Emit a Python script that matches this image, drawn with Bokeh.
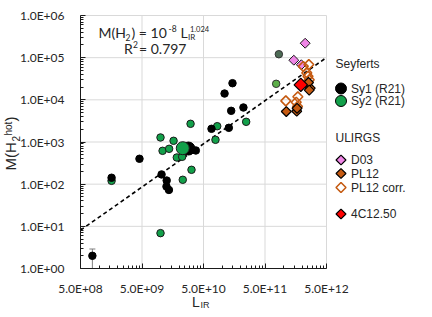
import numpy as np
from bokeh.plotting import figure
from bokeh.models import Range1d, FixedTicker, CustomJSTickFormatter
from bokeh.core.properties import value
from bokeh.embed import file_html
from bokeh.resources import INLINE

# ---------------- data ----------------
sy1_lir = [7.8e8, 1.6e9, 4.55e9, 1.04e10, 1.26e10, 1.25e10, 1.37e10, 3.75e10,
           6.75e10, 1.29e11, 1.41e11, 2.23e11, 1.10e11, 1.48e11]
sy1_mh2 = [2.0, 142, 400, 170, 122, 88, 73, 629, 2055, 2170, 5490, 6580, 14100, 24800]
err_lir = [7.8e8]
err_lo = [1.0]
err_hi = [2.9]

sy2_lir = [1.6e9, 1.0e10, 1.0e10, 1.08e10, 1.38e10, 1.63e10, 1.84e10, 2.25e10,
           2.3e10, 3.19e10, 3.08e10, 7.83e10, 8.36e10, 2.47e11]
sy2_mh2 = [120, 6.9, 1280, 618, 689, 1067, 429, 445, 127, 219, 2700, 1127, 2370, 3010]

sy1_mean_lir = [2.85e10]
sy1_mean_mh2 = [700]
sy2_mean_lir = [2.3e10]
sy2_mean_mh2 = [713]

extra_lir = [7.6e11]
extra_mh2 = [24000]
extra2_lir = [8.4e11]
extra2_mh2 = [120800]

d03_lir = [2.25e12, 1.47e12, 1.95e12]
d03_mh2 = [220000, 87000, 68000]

pl12_lir = [1.11e12, 1.64e12, 1.66e12, 2.72e12, 2.55e12, 2.62e12]
pl12_mh2 = [5280, 5370, 6300, 18900, 25800, 17000]

pl12c_lir = [2.1e12, 2.58e12, 2.39e12, 2.62e12, 1.09e12, 1.71e12, 1.61e12, 1.69e12, 2.5e12]
pl12c_mh2 = [62000, 68800, 43700, 29900, 9440, 11800, 8790, 6950, 36000]

c4_lir = [1.91e12]
c4_mh2 = [22700]

fit_coef = 1e-8
fit_exp = 1.024

x_major = [5e8, 5e9, 5e10, 5e11, 5e12]
y_major = [1, 10, 100, 1e3, 1e4, 1e5, 1e6]

legend_groups = ["Seyferts", "ULIRGS"]
legend_labels = ["Sy1 (R21)", "Sy2 (R21)", "D03", "PL12", "PL12 corr.", "4C12.50"]

GREEN = "#12a04a"
PINK = "#ef86e6"
BROWN = "#c55a11"
TXT = "#262626"
GRID = "#d9d9d9"
AXC = "#1a1a1a"

# ---------------- layout (picture pixels) ----------------
CANVAS_X0, CANVAS_Y0 = 8, 0
W, H = 416, 309
AREA_L, AREA_R, AREA_T, AREA_B = 88, 334, 15, 268     # the plotted data area
PPD_X = (AREA_R - AREA_L) / (np.log10(x_major[-1]) - np.log10(x_major[0]))
PPD_Y = (AREA_B - AREA_T) / (np.log10(y_major[-1]) - np.log10(y_major[0]))

def lx(px):
    return 10 ** (np.log10(x_major[0]) + (px - AREA_L) / PPD_X)

def ly(py):
    return 10 ** (np.log10(y_major[0]) + (AREA_B - py) / PPD_Y)

def mid(base, size):
    return base - 0.32 * size

p = figure(width=W, height=H, x_axis_type="log", y_axis_type="log",
           x_range=Range1d(lx(CANVAS_X0), lx(CANVAS_X0 + W)),
           y_range=Range1d(ly(CANVAS_Y0 + H), ly(CANVAS_Y0)),
           output_backend="svg", toolbar_location=None,
           min_border_left=0, min_border_right=0, min_border_top=0, min_border_bottom=0)
p.outline_line_color = None
p.grid.visible = False

x_minor = [m * x_major[0] * 10 ** k for k in range(4) for m in range(2, 10)]
y_minor = [m * 10 ** k for k in range(6) for m in range(2, 10)]

fmt = CustomJSTickFormatter(code=r"""
const s = tick.toExponential(1).toUpperCase();
return s.replace(/E([+-])(\d)$/, (m, a, b) => 'E' + a + '0' + b);
""")

for ax, maj, mnr in ((p.xaxis[0], x_major, x_minor), (p.yaxis[0], y_major, y_minor)):
    ax.ticker = FixedTicker(ticks=maj, minor_ticks=mnr)
    ax.formatter = fmt
    ax.bounds = (maj[0], maj[-1])
    ax.major_tick_in = 5
    ax.major_tick_out = 0
    ax.minor_tick_in = 3
    ax.minor_tick_out = 0
    ax.axis_line_color = AXC
    ax.major_tick_line_color = AXC
    ax.minor_tick_line_color = AXC
    ax.major_label_text_font = "Lato"
    ax.major_label_text_font_size = "12px"
    ax.major_label_text_color = TXT
p.xaxis.fixed_location = y_major[0]
p.yaxis.fixed_location = x_major[0]
p.xaxis.major_label_standoff = 12
p.yaxis.major_label_standoff = 16

# grid lines limited to the data area
p.segment(x0=[x_major[0]] * len(y_major), x1=[x_major[-1]] * len(y_major),
          y0=y_major, y1=y_major, line_color=GRID, line_width=1, level="underlay")
p.segment(x0=x_major, x1=x_major, y0=[y_major[0]] * len(x_major), y1=[y_major[-1]] * len(x_major),
          line_color=GRID, line_width=1, level="underlay")

# fit line
fx = np.array([x_major[0], x_major[-1]])
p.line(fx, fit_coef * fx ** fit_exp, line_color="black", line_width=1.6, line_dash="4 3")

# error bar
p.segment(x0=err_lir, x1=err_lir, y0=err_lo, y1=err_hi, line_color="#7f7f7f", line_width=1)
p.scatter(err_lir, err_hi, marker="dash", size=6, line_color="#7f7f7f", line_width=1)

# Seyferts
p.scatter(sy2_lir, sy2_mh2, marker="circle", size=7.5, fill_color=GREEN, line_color=AXC, line_width=1)
p.scatter(sy1_lir, sy1_mh2, marker="circle", size=7.5, fill_color="black", line_color="black", line_width=1)
p.scatter(extra_lir, extra_mh2, marker="circle", size=7.5, fill_color="#5cae49", line_color="#333333", line_width=1)
p.scatter(extra2_lir, extra2_mh2, marker="circle", size=7.5, fill_color="#4d6b55", line_color="#333333", line_width=1)
p.scatter(sy1_mean_lir, sy1_mean_mh2, marker="circle", size=13, fill_color="black", line_color="black")
p.scatter(sy2_mean_lir, sy2_mean_mh2, marker="circle", size=13, fill_color=GREEN, line_color=AXC)

# ULIRGs
ang = np.pi / 4
p.scatter(d03_lir, d03_mh2, marker="square", angle=ang, size=7, fill_color=PINK, line_color=AXC, line_width=1)
p.scatter(pl12c_lir, pl12c_mh2, marker="square", angle=ang, size=7, fill_color=None, line_color=BROWN, line_width=1.6)
p.scatter(pl12_lir, pl12_mh2, marker="square", angle=ang, size=7, fill_color=BROWN, line_color="black", line_width=1.2)
p.scatter(c4_lir, c4_mh2, marker="square", angle=ang, size=9.5, fill_color="red", line_color="black", line_width=1.2)


def txt(x, y, s, size, font, angle=0.0):
    p.text(x=[x], y=[y], text=[s], text_font=value(font), text_font_size=value(f"{size}px"),
           text_baseline="middle", text_align="left", angle=angle, text_color=TXT)


# ---------------- legend (drawn by hand) ----------------
MX = 348.5
leg_y = [88, 100.5, 159.5, 173, 187, 213.5]
p.scatter([lx(MX)], [ly(leg_y[0])], marker="circle", size=11, fill_color="black", line_color="black")
p.scatter([lx(MX)], [ly(leg_y[1])], marker="circle", size=11, fill_color=GREEN, line_color="black")
p.scatter([lx(MX)], [ly(leg_y[2])], marker="square", angle=ang, size=7, fill_color=PINK, line_color="black", line_width=1.2)
p.scatter([lx(MX)], [ly(leg_y[3])], marker="square", angle=ang, size=7, fill_color=BROWN, line_color="black", line_width=1.2)
p.scatter([lx(MX)], [ly(leg_y[4])], marker="square", angle=ang, size=7, fill_color=None, line_color=BROWN, line_width=1.6)
p.scatter([lx(MX)], [ly(leg_y[5])], marker="square", angle=ang, size=7, fill_color="red", line_color="black", line_width=1.2)

LF = "Liberation Sans"
txt(lx(343), ly(63), legend_groups[0], 12, LF)
txt(lx(343), ly(137.5), legend_groups[1], 12, LF)
for yy, s in zip(leg_y, legend_labels):
    txt(lx(358.5), ly(yy), s, 12, LF)

# ---------------- equation ----------------
EQF = "Lato"
for px, base, s, size in ((106, 36, "M(H", 14), (133, 39.5, "2", 8.5), (139, 36, ") = 10", 14),
                          (176, 31, "-8", 8.5), (188, 36, "L", 14), (195.5, 39.5, "IR", 8),
                          (197.5, 31, "1.024", 7.5),
                          (131.5, 52.5, "R", 14), (140.5, 47, "2", 8.5), (146.5, 52.5, " = 0.797", 14)):
    txt(lx(px), ly(mid(base, size)), s, size, EQF)

# ---------------- axis titles ----------------
for px, base, s, size in ((199.5, 306, "L", 14), (208, 307.5, "IR", 9)):
    txt(lx(px), ly(mid(base, size)), s, size, LF)

V = np.pi / 2
for bx, py, s, size in ((23, 170, "M(H", 15), (26.5, 141, "2", 10), (19.5, 135, "hot", 10), (23, 121, ")", 15)):
    txt(lx(bx - 0.32 * size), ly(py), s, size, LF, angle=V)

open("out.html", "w").write(file_html(p, INLINE))
